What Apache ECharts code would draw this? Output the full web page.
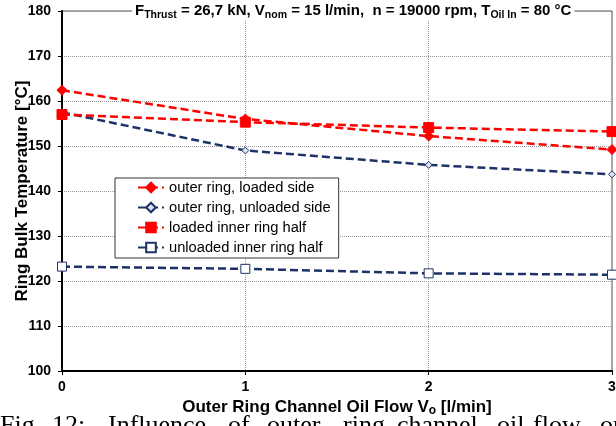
<!DOCTYPE html>
<html><head><meta charset="utf-8">
<script src="https://cdn.jsdelivr.net/npm/echarts@6/dist/echarts.min.js"></script>
<style>html,body{margin:0;padding:0;background:#fff}#c{width:616px;height:426px}</style>
</head><body><div id="c"></div>
<script>
var flow = [0, 1, 2, 3];
var outerLoaded = [162.4, 156.0, 152.2, 149.2];
var outerUnloaded = [157.5, 149.0, 145.8, 143.7];
var innerLoaded = [157.0, 155.3, 154.1, 153.2];
var innerUnloaded = [123.2, 122.7, 121.7, 121.4];
var seriesNames = ['outer ring, loaded side', 'outer ring, unloaded side', 'loaded inner ring half', 'unloaded inner ring half'];
var yTicks = [100, 110, 120, 130, 140, 150, 160, 170, 180];
var xTicks = [0, 1, 2, 3];
var captionWords = ['Fig.', '12:', 'Influence', 'of', 'outer', 'ring', 'channel', 'oil', 'flow', 'on'];

function pts(v) { return flow.map(function (x, i) { return [x, v[i]]; }); }

var RED = '#ff0000', NAVY = '#1c3268';
var font = 'Liberation Sans, Arial, sans-serif';
var chart = echarts.init(document.getElementById('c'), null, { renderer: 'canvas' });

var capX = [0, 52, 108, 228, 267, 343, 397, 497, 533, 600];
var graphics = captionWords.map(function (w, i) {
  return { type: 'text', left: capX[i], top: 413, style: { text: w, font: '26px "Liberation Serif", "Times New Roman", serif', fill: '#000' } };
});
graphics.push({
  type: 'text', left: 132, top: 3, z: 100,
  style: {
    rich: {
      m: { fontSize: 15, fontWeight: 'bold', fontFamily: font, lineHeight: 18, verticalAlign: 'top', fill: '#000' },
      s: { fontSize: 10.5, fontWeight: 'bold', fontFamily: font, lineHeight: 18, padding: [6, 0, 0, 0], fill: '#000' }
    },
    text: '{m|F}{s|Thrust}{m| = 26,7 kN, V}{s|nom}{m| = 15 l/min,  n = 19000 rpm, T}{s|Oil In}{m| = 80 °C}',
    backgroundColor: '#fff', padding: [0, 3, 0, 3]
  }
});

function mk(name, data, color, symbol, size, fill, w) {
  return {
    name: name, type: 'line', data: pts(data), symbol: symbol, symbolSize: size,
    lineStyle: { color: color, width: w, type: [8, 4] },
    itemStyle: { color: fill, borderColor: color, borderWidth: 1 },
    emphasis: { disabled: true }, animation: false, z: 3
  };
}

chart.setOption({
  animation: false,
  backgroundColor: '#fff',
  grid: { left: 62, right: 4, top: 11, bottom: 55, containLabel: false, outerBoundsMode: 'none', show: true, borderColor: '#555', borderWidth: 1, backgroundColor: 'transparent' },
  legend: {
    orient: 'vertical', left: 115, top: 178, itemWidth: 26, itemHeight: 12, itemGap: 5,
    padding: [2, 8, 3, 22], borderColor: '#333', borderWidth: 1, backgroundColor: '#fff',
    textStyle: { fontSize: 14.7, fontFamily: font, color: '#000' },
    data: seriesNames, z: 10
  },
  xAxis: {
    type: 'value', min: xTicks[0], max: xTicks[xTicks.length - 1], interval: 1,
    name: '{m|Outer Ring Channel Oil Flow V}{s|o}{m| [l/min]}', nameLocation: 'middle', nameGap: 26,
    nameMoveOverlap: false,
    nameTextStyle: {
      rich: {
        m: { fontSize: 17, fontWeight: 'bold', fontFamily: font, lineHeight: 20, color: '#000' },
        s: { fontSize: 12, fontWeight: 'bold', fontFamily: font, lineHeight: 20, padding: [7, 0, 0, 0], color: '#000' }
      }
    },
    axisLine: { show: true, onZero: false, lineStyle: { color: '#000', width: 2 } },
    axisTick: { show: true, length: 4, lineStyle: { color: '#000' } },
    axisLabel: { fontSize: 14, fontWeight: 'bold', fontFamily: font, color: '#000', margin: 9 },
    splitLine: { show: true, lineStyle: { color: '#999', type: 'dotted', width: 1 } }
  },
  yAxis: {
    type: 'value', min: yTicks[0], max: yTicks[yTicks.length - 1], interval: 10,
    name: 'Ring Bulk Temperature [°C]', nameLocation: 'middle', nameGap: 31, nameRotate: 90,
    nameMoveOverlap: false,
    nameTextStyle: { fontSize: 17, fontWeight: 'bold', fontFamily: font, color: '#000' },
    axisLine: { show: true, lineStyle: { color: '#000', width: 2 } },
    axisTick: { show: true, length: 4, lineStyle: { color: '#000' } },
    axisLabel: { fontSize: 14, fontWeight: 'bold', fontFamily: font, color: '#000', margin: 11 },
    splitLine: { show: true, lineStyle: { color: '#999', type: 'dotted', width: 1 } }
  },
  graphic: graphics,
  series: [
    mk(seriesNames[0], outerLoaded, RED, 'diamond', 10, RED, 2.5),
    mk(seriesNames[1], outerUnloaded, NAVY, 'diamond', 7, '#dde4f0', 2.5),
    mk(seriesNames[2], innerLoaded, RED, 'rect', 10, RED, 2.5),
    mk(seriesNames[3], innerUnloaded, NAVY, 'rect', 9, '#fff', 2.5)
  ]
});
</script></body></html>
